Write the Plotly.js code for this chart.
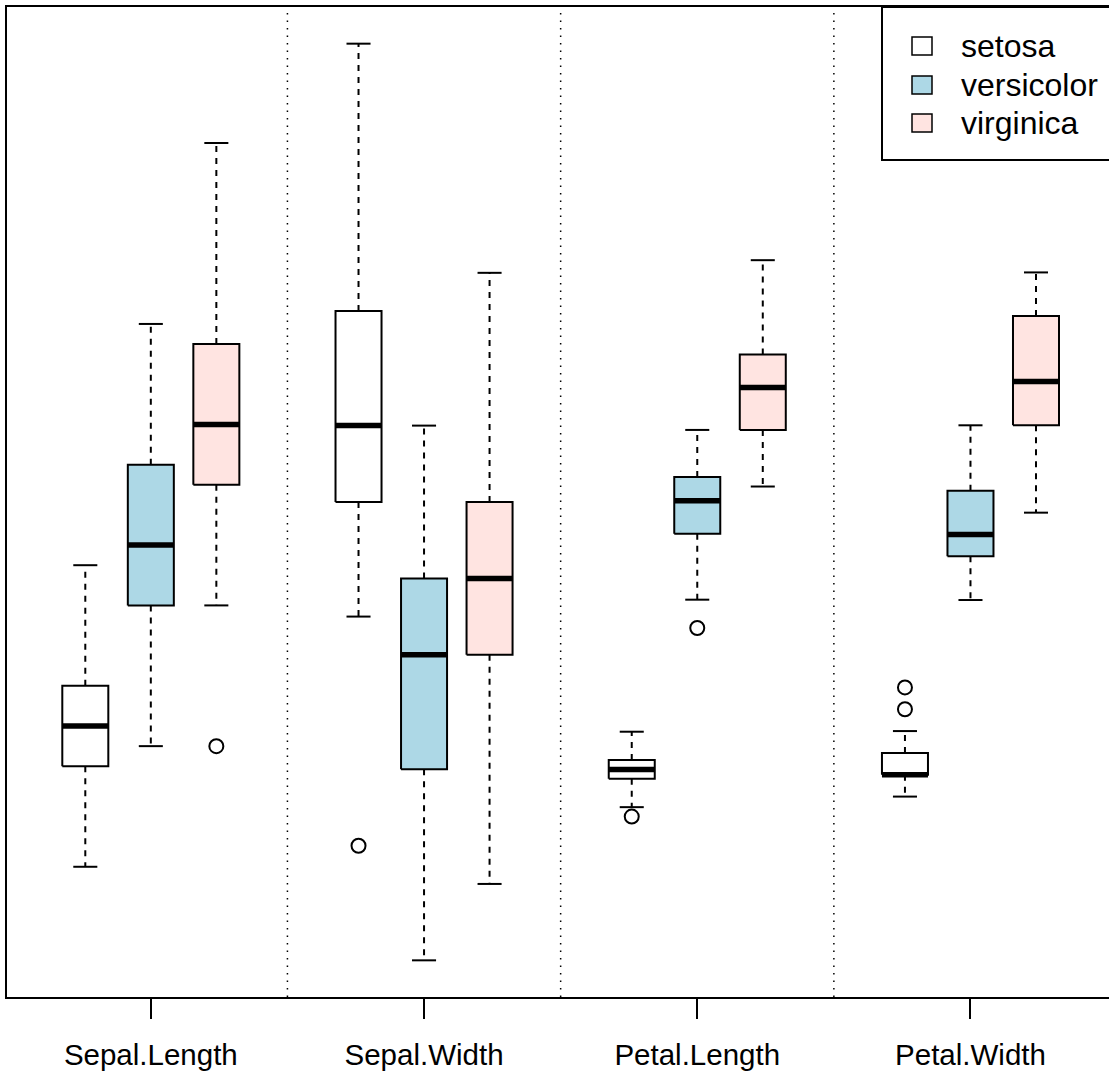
<!DOCTYPE html>
<html>
<head>
<meta charset="utf-8">
<script src="https://cdn.plot.ly/plotly-3.0.1.min.js"></script>
<style>html,body{margin:0;padding:0;background:#fff;}#chart{width:1109px;height:1073px;}</style>
</head>
<body>
<div id="chart"></div>
<script>
// ---- data (iris, box statistics in cm) ----
const variables = ['Sepal.Length', 'Sepal.Width', 'Petal.Length', 'Petal.Width'];
const species = ['setosa', 'versicolor', 'virginica'];
const speciesColors = ['#FFFFFF', '#ADD8E6', '#FFE4E1'];
// per variable: [setosa, versicolor, virginica]
const lowWhisker  = [[4.3, 4.9, 5.6], [2.9, 2.0, 2.2], [1.1, 3.3, 4.5], [0.1, 1.0, 1.4]];
const q1          = [[4.8, 5.6, 6.2], [3.2, 2.5, 2.8], [1.4, 4.0, 5.1], [0.2, 1.2, 1.8]];
const medians     = [[5.0, 5.9, 6.5], [3.4, 2.8, 3.0], [1.5, 4.35, 5.55], [0.2, 1.3, 2.0]];
const q3          = [[5.2, 6.3, 6.9], [3.7, 3.0, 3.2], [1.6, 4.6, 5.9], [0.3, 1.5, 2.3]];
const highWhisker = [[5.8, 7.0, 7.9], [4.4, 3.4, 3.8], [1.9, 5.1, 6.9], [0.4, 1.8, 2.5]];
const outliers    = [[[], [], [4.9]], [[2.3], [], []], [[1.0], [3.0], []], [[0.5, 0.6], [], []]];
// overall mean / sd of each variable (values are drawn standardized)
const varMean = [5.843333, 3.057333, 3.758, 1.199333];
const varSd   = [0.8280661, 0.4358663, 1.7652982, 0.7622377];

// ---- layout helpers ----
const W = 1109, H = 1073;
const M = {l: 7, r: 0, t: 7, b: 76};
const spOffset = 0.2398;   // species offset within group (group units)
const boxHalf = 0.0842;    // box half width
const capHalf = 0.0440;    // staple half width
const z = (v, i) => (v - varMean[i]) / varSd[i];
const pxX = px => (px - M.l) / (W - M.l - M.r);
const pxY = py => (H - M.b - py) / (H - M.t - M.b);

const traces = [];
const wx = [], wy = [], cx = [], cy = [], mx = [], my = [], ox = [], oy = [];
const allZ = [];
variables.forEach((v, i) => {
  species.forEach((s, j) => {
    const xc = i + (j - 1) * spOffset;
    const lo = z(lowWhisker[i][j], i), a = z(q1[i][j], i), m = z(medians[i][j], i),
          b = z(q3[i][j], i), hi = z(highWhisker[i][j], i);
    allZ.push(lo, hi);
    // box
    traces.push({
      type: 'scatter', mode: 'lines', fill: 'toself', fillcolor: speciesColors[j],
      x: [xc - boxHalf, xc + boxHalf, xc + boxHalf, xc - boxHalf, xc - boxHalf],
      y: [a, a, b, b, a],
      line: {color: '#000', width: 2}, hoverinfo: 'skip', showlegend: false
    });
    // whiskers
    wx.push(xc, xc, null, xc, xc, null);
    wy.push(a, lo, null, b, hi, null);
    // caps
    cx.push(xc - capHalf, xc + capHalf, null, xc - capHalf, xc + capHalf, null);
    cy.push(lo, lo, null, hi, hi, null);
    // median
    mx.push(xc - boxHalf, xc + boxHalf, null);
    my.push(m, m, null);
    outliers[i][j].forEach(o => { ox.push(xc); oy.push(z(o, i)); allZ.push(z(o, i)); });
  });
});

traces.unshift({type: 'scatter', mode: 'lines', x: wx, y: wy,
  line: {color: '#000', width: 2, dash: '6px,6px'}, hoverinfo: 'skip', showlegend: false});
traces.push({type: 'scatter', mode: 'lines', x: cx, y: cy,
  line: {color: '#000', width: 2}, hoverinfo: 'skip', showlegend: false});
traces.push({type: 'scatter', mode: 'lines', x: mx, y: my,
  line: {color: '#000', width: 5.5}, hoverinfo: 'skip', showlegend: false});
traces.push({type: 'scatter', mode: 'markers', x: ox, y: oy,
  marker: {symbol: 'circle-open', size: 14, color: '#000', line: {width: 2, color: '#000'}},
  hoverinfo: 'skip', showlegend: false});

const zmin = Math.min(...allZ), zmax = Math.max(...allZ);
const ext = (zmax - zmin) * 0.04;

const shapes = [];
for (let k = 0; k < variables.length - 1; k++) {
  shapes.push({type: 'line', xref: 'x', yref: 'paper', x0: k + 0.5, x1: k + 0.5, y0: 0, y1: 1,
    line: {color: '#000', width: 1.5, dash: '1.5px,6px'}});
}
// legend frame
shapes.push({type: 'rect', xref: 'paper', yref: 'paper', x0: pxX(882), x1: pxX(1120), y0: pxY(160), y1: pxY(7),
  line: {color: '#000', width: 2}, fillcolor: '#fff', layer: 'above'});
const annotations = [];
const rowY = [46, 85, 123];
species.forEach((s, j) => {
  shapes.push({type: 'rect', xref: 'paper', yref: 'paper', x0: pxX(912), x1: pxX(932),
    y0: pxY(rowY[j] + 9), y1: pxY(rowY[j] - 9), line: {color: '#000', width: 1.5},
    fillcolor: speciesColors[j], layer: 'above'});
  annotations.push({xref: 'paper', yref: 'paper', x: pxX(959), y: pxY(rowY[j]), xanchor: 'left', yanchor: 'middle',
    text: s, showarrow: false, font: {size: 32, color: '#000'}});
});

const layout = {
  width: W, height: H, margin: M, paper_bgcolor: '#fff', plot_bgcolor: '#fff',
  font: {family: '"Liberation Sans", Arial, Helvetica, sans-serif', color: '#000'},
  showlegend: false,
  xaxis: {range: [-0.5264, 3.507], showgrid: false, zeroline: false, showline: true, mirror: true,
    linecolor: '#000', linewidth: 2, ticks: 'outside', ticklen: 20, tickwidth: 2, tickcolor: '#000',
    ticklabelstandoff: 11,
    tickvals: variables.map((v, i) => i), ticktext: variables, tickfont: {size: 29.5}},
  yaxis: {range: [zmin - ext, zmax + ext], showgrid: false, zeroline: false, showline: true,
    linecolor: '#000', linewidth: 2, showticklabels: false, ticks: ''},
  shapes: shapes, annotations: annotations
};
Plotly.newPlot('chart', traces, layout, {displayModeBar: false, staticPlot: true});
</script>
</body>
</html>
